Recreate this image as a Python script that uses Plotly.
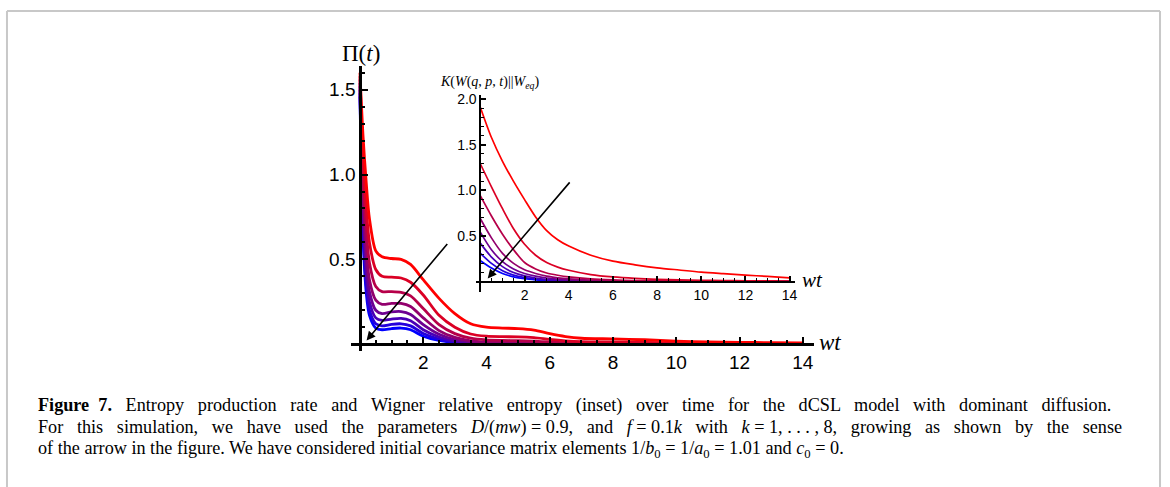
import plotly.graph_objects as go

W, H = 1170, 487

# ---------------- data ----------------
k_values = [1, 2, 3, 4, 5, 6, 7, 8]

t_main = [0, 0.1, 0.2, 0.3, 0.5, 0.7, 1.0, 1.3, 1.6, 2.0, 2.5, 3.0, 3.5, 4.0,
          4.5, 5.0, 5.5, 6.0, 6.5, 7.0, 8.0, 9.0, 10, 11, 12, 13, 14]

pi_k1 = [1.46, 0.62, 0.30, 0.17, 0.095, 0.085, 0.092, 0.095, 0.085, 0.047, 0.022, 0.008, 0.003, 0.002,
         0.001, 0.001, 0.001, 0.0, 0.0, 0.0, 0.0, 0.0, 0.0, 0.0, 0.0, 0.0, 0.0]
pi_k2 = [1.48, 0.68, 0.35, 0.20, 0.12, 0.108, 0.117, 0.12, 0.108, 0.063, 0.030, 0.012, 0.005, 0.003,
         0.002, 0.002, 0.001, 0.001, 0.001, 0.0, 0.0, 0.0, 0.0, 0.0, 0.0, 0.0, 0.0]
pi_k3 = [1.50, 0.75, 0.41, 0.25, 0.155, 0.14, 0.148, 0.152, 0.138, 0.085, 0.042, 0.018, 0.008, 0.005,
         0.004, 0.003, 0.002, 0.002, 0.001, 0.001, 0.0, 0.0, 0.0, 0.0, 0.0, 0.0, 0.0]
pi_k4 = [1.52, 0.82, 0.48, 0.31, 0.20, 0.18, 0.19, 0.192, 0.175, 0.115, 0.058, 0.027, 0.013, 0.008,
         0.006, 0.005, 0.004, 0.003, 0.002, 0.001, 0.001, 0.001, 0.0, 0.0, 0.0, 0.0, 0.0]
pi_k5 = [1.54, 0.90, 0.57, 0.38, 0.26, 0.235, 0.24, 0.24, 0.222, 0.155, 0.080, 0.040, 0.020, 0.013,
         0.011, 0.010, 0.008, 0.006, 0.004, 0.003, 0.002, 0.002, 0.001, 0.001, 0.001, 0.0, 0.0]
pi_k6 = [1.56, 1.00, 0.68, 0.48, 0.34, 0.31, 0.31, 0.305, 0.285, 0.21, 0.115, 0.062, 0.035, 0.025,
         0.022, 0.021, 0.018, 0.013, 0.009, 0.007, 0.006, 0.005, 0.003, 0.002, 0.002, 0.001, 0.001]
pi_k7 = [1.58, 1.10, 0.80, 0.60, 0.44, 0.40, 0.395, 0.39, 0.365, 0.29, 0.17, 0.10, 0.06, 0.047,
         0.044, 0.043, 0.038, 0.028, 0.020, 0.015, 0.013, 0.011, 0.007, 0.005, 0.004, 0.003, 0.003]
pi_k8 = [1.60, 1.22, 0.95, 0.74, 0.55, 0.515, 0.505, 0.50, 0.47, 0.38, 0.27, 0.18, 0.12, 0.100,
         0.095, 0.092, 0.083, 0.062, 0.045, 0.035, 0.031, 0.026, 0.018, 0.013, 0.011, 0.009, 0.008]

t_inset = [0, 0.5, 1.0, 1.5, 2.0, 2.5, 3.0, 3.5, 4.0, 5, 6, 7, 8, 9, 10, 11, 12, 13, 14]

kl_k1 = [0.23, 0.15, 0.09, 0.053, 0.032, 0.020, 0.012, 0.008, 0.005, 0.002, 0.001, 0.001, 0.0, 0.0, 0.0, 0.0, 0.0, 0.0, 0.0]
kl_k2 = [0.31, 0.20, 0.12, 0.072, 0.045, 0.028, 0.018, 0.012, 0.008, 0.004, 0.002, 0.001, 0.001, 0.001, 0.0, 0.0, 0.0, 0.0, 0.0]
kl_k3 = [0.42, 0.27, 0.165, 0.10, 0.063, 0.040, 0.026, 0.018, 0.012, 0.006, 0.004, 0.002, 0.001, 0.001, 0.001, 0.001, 0.0, 0.0, 0.0]
kl_k4 = [0.54, 0.35, 0.22, 0.14, 0.09, 0.06, 0.04, 0.028, 0.020, 0.011, 0.006, 0.004, 0.003, 0.002, 0.002, 0.001, 0.001, 0.001, 0.001]
kl_k5 = [0.69, 0.48, 0.31, 0.20, 0.13, 0.09, 0.06, 0.042, 0.030, 0.017, 0.010, 0.007, 0.005, 0.004, 0.003, 0.002, 0.002, 0.001, 0.001]
kl_k6 = [0.94, 0.72, 0.52, 0.35, 0.21, 0.14, 0.095, 0.07, 0.052, 0.030, 0.019, 0.013, 0.009, 0.007, 0.005, 0.004, 0.003, 0.003, 0.002]
kl_k7 = [1.29, 1.04, 0.80, 0.58, 0.41, 0.29, 0.21, 0.16, 0.125, 0.078, 0.052, 0.036, 0.026, 0.020, 0.015, 0.012, 0.010, 0.008, 0.007]
kl_k8 = [1.91, 1.58, 1.32, 1.10, 0.90, 0.71, 0.56, 0.46, 0.39, 0.29, 0.225, 0.185, 0.152, 0.128, 0.105, 0.088, 0.072, 0.058, 0.042]

main_series = [pi_k1, pi_k2, pi_k3, pi_k4, pi_k5, pi_k6, pi_k7, pi_k8]
inset_series = [kl_k1, kl_k2, kl_k3, kl_k4, kl_k5, kl_k6, kl_k7, kl_k8]

main_xticks = [2, 4, 6, 8, 10, 12, 14]
main_xlabels = ["2", "4", "6", "8", "10", "12", "14"]
main_yticks = [0.5, 1.0, 1.5]
main_ylabels = ["0.5", "1.0", "1.5"]
inset_xticks = [2, 4, 6, 8, 10, 12, 14]
inset_xlabels = ["2", "4", "6", "8", "10", "12", "14"]
inset_yticks = [0.5, 1.0, 1.5, 2.0]
inset_ylabels = ["0.5", "1.0", "1.5", "2.0"]

# arrows (tail -> tip), data coordinates
main_arrow_tail = (2.8, 0.60)
main_arrow_tip = (0.21, 0.022)
inset_arrow_tail = (4.1, 1.105)
inset_arrow_tip = (0.33, 0.036)

EN = "\u2002"
caption_lines = [
    ("<b>Figure" + EN + "7.</b> Entropy production rate and Wigner relative entropy (inset) over time for the dCSL model with dominant diffusion.").replace(" ", " " + EN),
    "For" + EN + " this" + EN + " simulation," + EN + " we" + EN + " have" + EN + " used" + EN + " the" + EN + " parameters" + EN
    + " <i>D</i>/(<i>mw</i>) = 0.9," + EN + " and" + EN + " <i>f</i> = 0.1<i>k</i>" + EN + " with" + EN
    + " <i>k</i> = 1, . . . , 8," + EN + " growing" + EN + " as" + EN + " shown" + EN + " by" + EN + " the" + EN + " sense",
    "of the arrow in the figure. We have considered initial covariance matrix elements 1/<i>b</i><sub>0</sub> = 1/<i>a</i><sub>0</sub> = 1.01 and <i>c</i><sub>0</sub> = 0.",
]

# ---------------- figure ----------------
def px_x(p):
    return p / W

def px_y(p):
    return 1 - p / H

def colour(k):
    s = (k - 1) / 7
    return f"rgb({round(255 * s)},0,{round(255 * (1 - s))})"

fig = go.Figure()
for k, ys in zip(k_values, main_series):
    fig.add_trace(go.Scatter(x=t_main, y=ys, mode="lines", xaxis="x", yaxis="y",
                             line=dict(color=colour(k), width=2.8, shape="spline", smoothing=0.8),
                             showlegend=False, hoverinfo="skip"))
for k, ys in zip(k_values, inset_series):
    fig.add_trace(go.Scatter(x=t_inset, y=ys, mode="lines", xaxis="x2", yaxis="y2",
                             line=dict(color=colour(k), width=1.7, shape="spline", smoothing=0.8),
                             showlegend=False, hoverinfo="skip"))

tick_main = dict(family="Liberation Sans, Arial, sans-serif", size=19, color="black")
tick_inset = dict(family="Liberation Sans, Arial, sans-serif", size=14, color="black")

common = dict(showgrid=False, zeroline=False, showline=True, linecolor="black",
              ticks="inside", tickcolor="black", anchor="free")

fig.update_layout(
    width=W, height=H,
    margin=dict(l=0, r=0, t=0, b=0),
    paper_bgcolor="white", plot_bgcolor="rgba(0,0,0,0)",
    xaxis=dict(**common, domain=[px_x(352), px_x(816)], range=[-0.28, 14.35],
               position=px_y(343), linewidth=2.5, ticklen=6, tickwidth=2,
               tickvals=main_xticks, ticktext=main_xlabels, tickfont=tick_main,
               minor=dict(dtick=0.5, tick0=0, ticks="inside", ticklen=3.5, tickwidth=1.5, tickcolor="black")),
    yaxis=dict(**common, domain=[px_y(350), px_y(63)], range=[-0.041, 1.637],
               position=px_x(361), linewidth=2.5, ticklen=6, tickwidth=2,
               tickvals=main_yticks, ticktext=main_ylabels, tickfont=tick_main,
               minor=dict(dtick=0.1, tick0=0, ticks="inside", ticklen=3.5, tickwidth=1.5, tickcolor="black")),
    xaxis2=dict(**common, domain=[px_x(477), px_x(796.7)], range=[-0.21, 14.23],
                position=px_y(280), linewidth=2, ticklen=5, tickwidth=1.5,
                tickvals=inset_xticks, ticktext=inset_xlabels, tickfont=tick_inset,
                minor=dict(dtick=0.5, tick0=0, ticks="inside", ticklen=3, tickwidth=1.2, tickcolor="black")),
    yaxis2=dict(**common, domain=[px_y(290), px_y(91.7)], range=[-0.109, 2.047],
                position=px_x(481.7), linewidth=2, ticklen=5, tickwidth=1.5,
                tickvals=inset_yticks, ticktext=inset_ylabels, tickfont=tick_inset,
                minor=dict(dtick=0.1, tick0=0, ticks="inside", ticklen=3, tickwidth=1.2, tickcolor="black")),
)

serif = "Liberation Serif, Times New Roman, serif"
ann = []
def label(text, x, y, size):
    return dict(text=text, x=px_x(x), y=px_y(y), xref="paper", yref="paper",
                xanchor="center", yanchor="middle", showarrow=False,
                font=dict(family=serif, size=size, color="black"))

ann.append(label("Π(<i>t</i>)", 362, 50, 23))
ann.append(label("<i>wt</i>", 832, 341, 23))
ann.append(label("<i>wt</i>", 815, 278, 21))
ann.append(label("<i>K</i>(<i>W</i>(<i>q</i>, <i>p</i>, <i>t</i>)||<i>W</i><sub><i>eq</i></sub>)", 491, 79, 14))
# arrows
ann.append(dict(text="", x=main_arrow_tip[0], y=main_arrow_tip[1], xref="x", yref="y",
                ax=main_arrow_tail[0], ay=main_arrow_tail[1], axref="x", ayref="y",
                showarrow=True, arrowhead=2, arrowsize=1.1, arrowwidth=1.6, arrowcolor="black"))
ann.append(dict(text="", x=inset_arrow_tip[0], y=inset_arrow_tip[1], xref="x2", yref="y2",
                ax=inset_arrow_tail[0], ay=inset_arrow_tail[1], axref="x2", ayref="y2",
                showarrow=True, arrowhead=2, arrowsize=1.1, arrowwidth=1.6, arrowcolor="black"))
# caption
for i, line in enumerate(caption_lines):
    ann.append(dict(text=line, x=px_x(36), y=px_y(405 + 22 * i), xref="paper", yref="paper",
                    xanchor="left", yanchor="middle", showarrow=False, align="left",
                    font=dict(family=serif, size=18.2, color="black")))
fig.update_layout(annotations=ann)

# frame border
border = dict(color="#c8c8c8", width=2)
fig.update_layout(shapes=[
    dict(type="line", xref="paper", yref="paper", x0=px_x(7), x1=px_x(7), y0=px_y(7), y1=-0.1, line=border),
    dict(type="line", xref="paper", yref="paper", x0=px_x(7), x1=px_x(1163), y0=px_y(7), y1=px_y(7), line=border),
    dict(type="line", xref="paper", yref="paper", x0=px_x(1163), x1=px_x(1163), y0=px_y(7), y1=-0.1, line=border),
])

fig.write_html("out.html", config={"displayModeBar": False},
               post_script="document.body.style.margin='0px';")
